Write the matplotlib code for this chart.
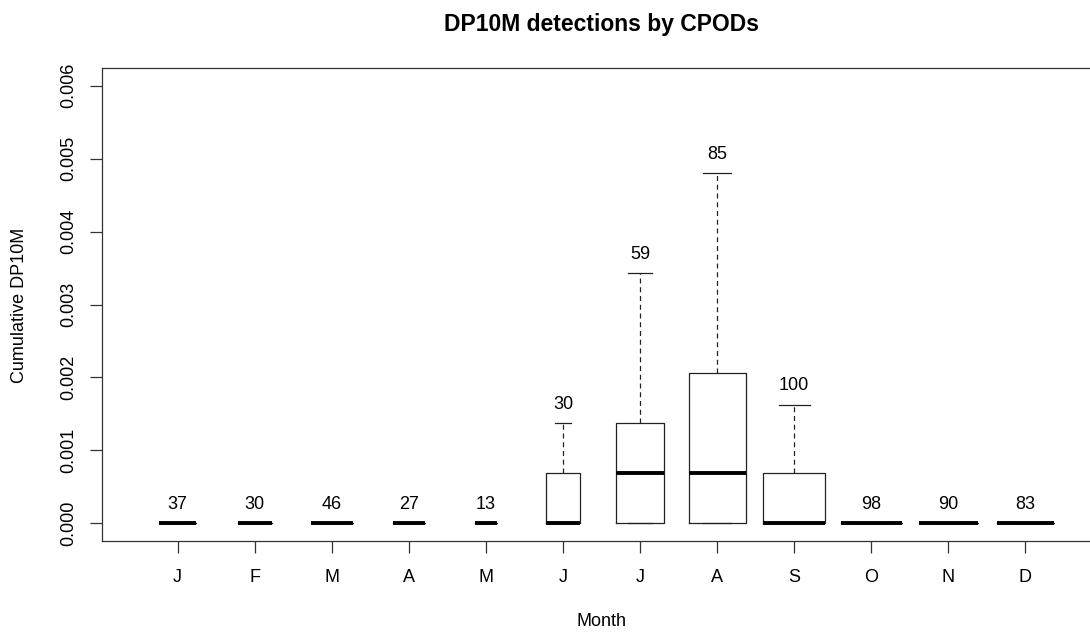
import numpy as np
import matplotlib
matplotlib.use('Agg')
import matplotlib.pyplot as plt

plt.rcParams['font.family'] = ['Liberation Sans', 'DejaVu Sans']

# Monthly box stats (cumulative DP10M)
months = ['J', 'F', 'M', 'A', 'M', 'J', 'J', 'A', 'S', 'O', 'N', 'D']
n_obs = [37, 30, 46, 27, 13, 30, 59, 85, 100, 98, 90, 83]
q1 = [0, 0, 0, 0, 0, 0, 0, 0, 0, 0, 0, 0]
medians = [0, 0, 0, 0, 0, 0, 0.00069, 0.00069, 0, 0, 0, 0]
q3 = [0, 0, 0, 0, 0, 0.00069, 0.00137, 0.00206, 0.00069, 0, 0, 0]
whisk_hi = [0, 0, 0, 0, 0, 0.00137, 0.00343, 0.0048, 0.00163, 0, 0, 0]

stats = []
for i in range(len(months)):
    stats.append({'med': medians[i], 'q1': q1[i], 'q3': q3[i],
                  'whislo': q1[i], 'whishi': whisk_hi[i], 'fliers': []})

# box width grows with sqrt(n), like R's varwidth
widths = 0.8 * np.sqrt(n_obs) / np.sqrt(max(n_obs))
pos = np.arange(1, len(months) + 1)

W, H = 1090, 633
fig = plt.figure(figsize=(W / 100, H / 100), dpi=100)
ax = fig.add_axes([102 / W, (H - 541) / H, (1101 - 102) / W, (541 - 68) / H])

lc = '#222222'
ax.bxp(stats, positions=pos, widths=widths, showfliers=False,
       boxprops=dict(color=lc, linewidth=0.9),
       whiskerprops=dict(color=lc, linewidth=0.9, linestyle=(0, (4, 3))),
       capprops=dict(color=lc, linewidth=0.9),
       medianprops=dict(color='black', linewidth=2.8, solid_capstyle='butt'),
       capwidths=widths / 2)

for x, top, n in zip(pos, whisk_hi, n_obs):
    ax.text(x, top + 0.00026, str(n), ha='center', va='center', fontsize=13)

ax.set_xlim(0.02, 12.98)
ax.set_ylim(-0.00024, 0.00624)
ax.set_xticks(pos)
ax.set_xticklabels(months)
yt = np.arange(0, 0.0061, 0.001)
ax.set_yticks(yt)
ax.set_yticklabels([f'{v:.3f}' for v in yt], rotation=90, va='center')
ax.tick_params(axis='both', length=8.5, width=0.9, color='#333333', labelsize=13)
ax.tick_params(axis='x', pad=12)
ax.tick_params(axis='y', pad=9)
for s in ax.spines.values():
    s.set_color('#333333')
    s.set_linewidth(0.9)
ax.spines['right'].set_visible(False)

fig.text(601.5 / W, 1 - 24 / H, 'DP10M detections by CPODs', ha='center', va='center',
         fontsize=16.5, fontweight='bold')
fig.text(601.5 / W, 1 - 622 / H, 'Month', ha='center', va='center', fontsize=13)
fig.text(20 / W, 1 - 305 / H, 'Cumulative DP10M', ha='center', va='center',
         rotation=90, fontsize=13)

fig.savefig('out.png', dpi=100)
